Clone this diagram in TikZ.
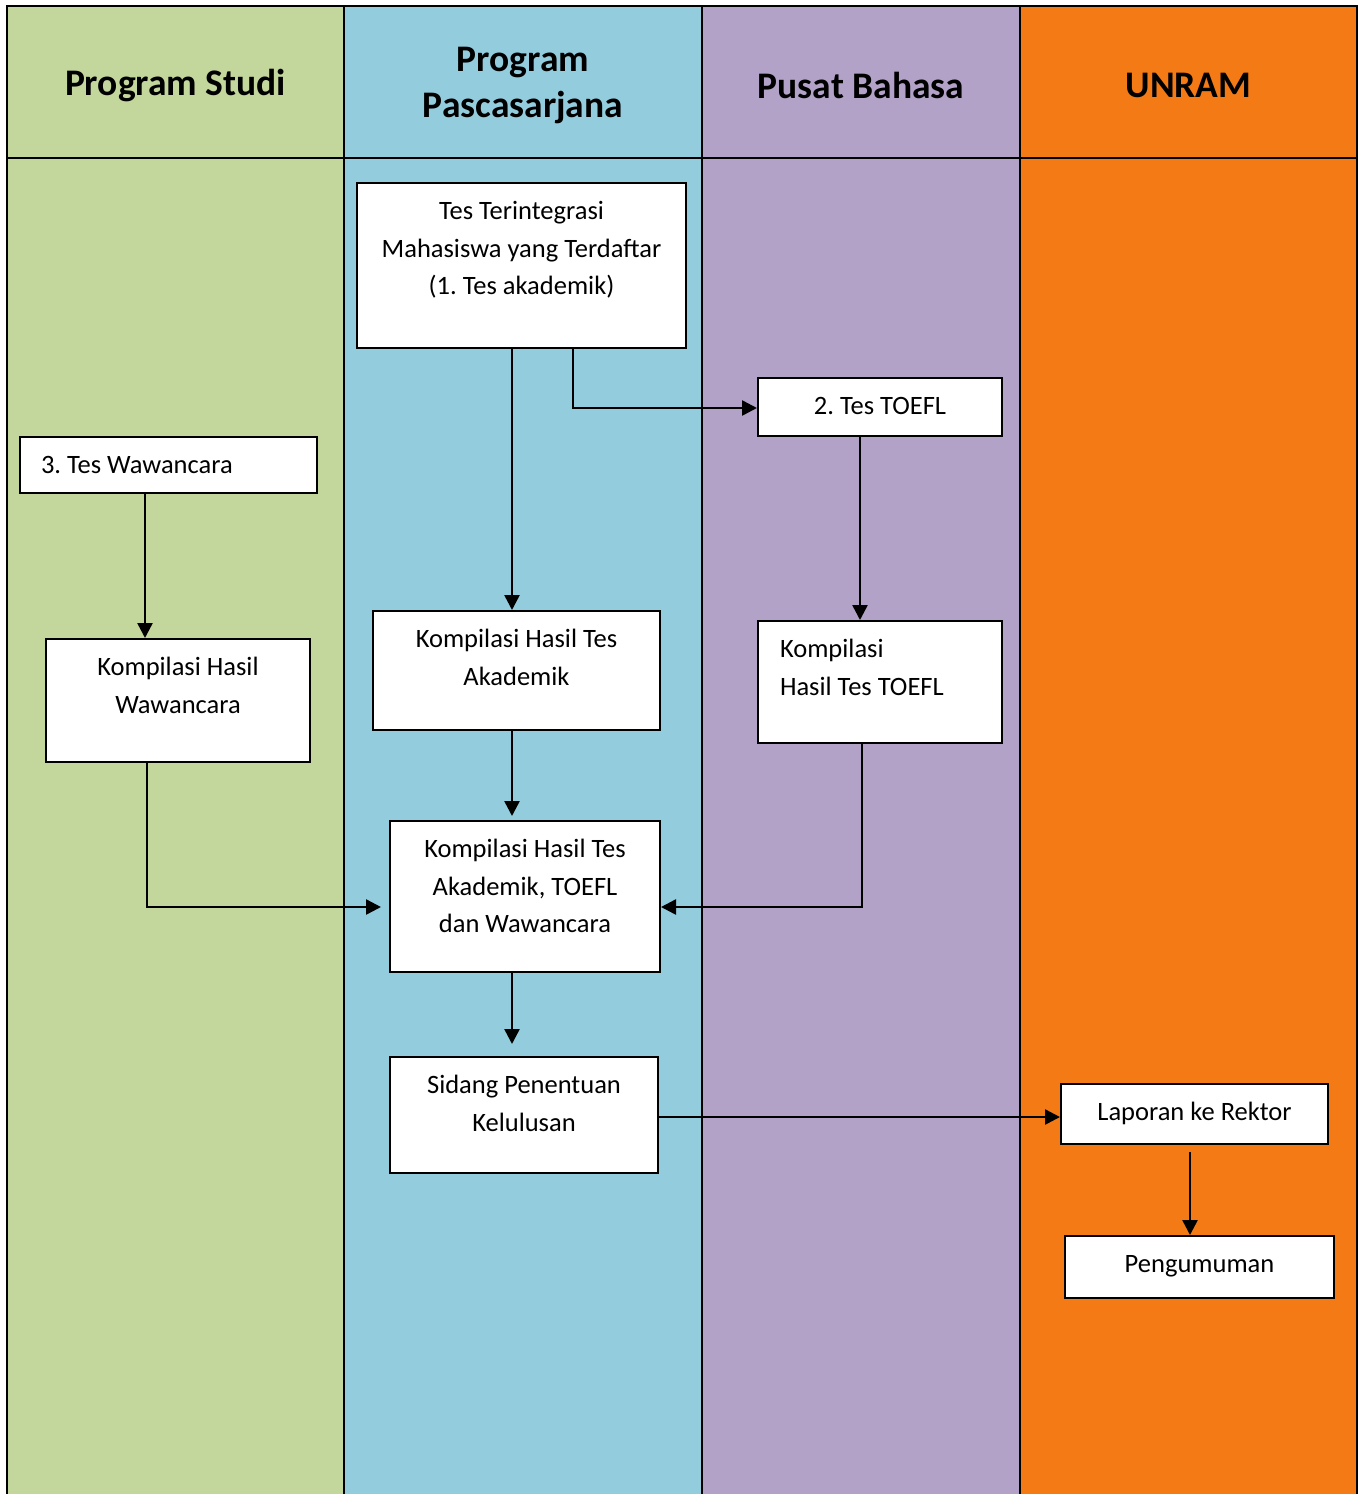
\documentclass[tikz,border=0pt]{standalone}
\usepackage{fontspec}
\setmainfont{Carlito}
\usetikzlibrary{arrows.meta}
\definecolor{laneA}{HTML}{C3D69B}
\definecolor{laneB}{HTML}{93CDDD}
\definecolor{laneC}{HTML}{B2A2C7}
\definecolor{laneD}{HTML}{F47A16}
\frenchspacing
\newcommand{\bxtxt}[4]{\parbox[c][#2pt][t]{#1pt}{\fontsize{26.5}{37.5}\selectfont\frenchspacing\vspace*{10.25pt}#3\strut #4\par}}
\tikzset{
  flowbox/.style={draw=black, line width=2pt, fill=white, inner sep=0pt, anchor=north west},
  lanehead/.style={inner sep=0pt, font=\fontsize{37.5}{46}\selectfont\bfseries, align=center},
  arr/.style={draw=black, line width=2.5pt, -{Triangle[length=15pt,width=15pt]}},
}
\begin{document}
\begin{tikzpicture}[x=1pt,y=-1pt]
\useasboundingbox (0,0) rectangle (1365,1494);
% lanes
\fill[laneA] (7,6) rectangle (344,1494);
\fill[laneB] (344,6) rectangle (702,1494);
\fill[laneC] (702,6) rectangle (1020,1494);
\fill[laneD] (1020,6) rectangle (1357,1494);
\draw[line width=2pt] (7,1494) -- (7,6) -- (1357,6) -- (1357,1494);
\draw[line width=2pt] (344,6) -- (344,1494);
\draw[line width=2pt] (702,6) -- (702,1494);
\draw[line width=2pt] (1020,6) -- (1020,1494);
\draw[line width=1.5pt] (7,158) -- (1357,158);
% headers
\node[lanehead] (h1) at (175.5,85.5) {Program Studi};
\node[lanehead] (h2) at (523,86) {Program\\Pascasarjana};
\node[lanehead] (h3) at (861,85) {Pusat Bahasa};
\node[lanehead] (h4) at (1188.5,85) {UNRAM};
% boxes
\node[flowbox] (t1) at (356,182) {\bxtxt{329}{165}{\centering}{Tes Terintegrasi\\Mahasiswa yang Terdaftar\\(1. Tes akademik)}};
\node[flowbox] (toefl) at (757,377) {\bxtxt{244}{58}{\centering}{2. Tes TOEFL}};
\node[flowbox] (waw) at (19,436) {\bxtxt{297}{56}{\raggedright\hspace*{21pt}}{3. Tes Wawancara}};
\node[flowbox] (kw) at (45,638) {\bxtxt{264}{123}{\centering}{Kompilasi Hasil\\Wawancara}};
\node[flowbox] (ka) at (372,610) {\bxtxt{287}{119}{\centering}{Kompilasi Hasil Tes\\Akademik}};
\node[flowbox] (kt) at (757,620) {\bxtxt{244}{122}{\raggedright\leftskip=22pt}{Kompilasi\\Hasil Tes TOEFL}};
\node[flowbox] (kc) at (389,820) {\bxtxt{270}{151}{\centering}{Kompilasi Hasil Tes\\Akademik, TOEFL\\dan Wawancara}};
\node[flowbox] (sid) at (389,1056) {\bxtxt{268}{116}{\centering}{Sidang Penentuan\\Kelulusan}};
\node[flowbox] (lap) at (1060,1083) {\bxtxt{267}{60}{\centering}{Laporan ke Rektor}};
\node[flowbox] (peng) at (1064,1235) {\bxtxt{269}{62}{\centering}{Pengumuman}};
% helper coordinates
\coordinate (x512) at (512,0);
\coordinate (x573) at (573,0);
\coordinate (x860) at (860,0);
\coordinate (x862) at (862,0);
\coordinate (x145) at (145,0);
\coordinate (x147) at (147,0);
\coordinate (x1190) at (1190,0);
\coordinate (y907) at (0,907);
\coordinate (y408) at (0,408);
\coordinate (y1117) at (0,1117);
% connectors
\draw[arr] (t1.south -| x512) -- (ka.north -| x512);
\draw[arr] (t1.south -| x573) |- (toefl.west |- y408);
\draw[arr] (toefl.south -| x860) -- (kt.north -| x860);
\draw[arr] (waw.south -| x145) -- (kw.north -| x145);
\draw[arr, shorten >=8pt] (kw.south -| x147) |- (kc.west |- y907);
\draw[arr, shorten >=4pt] (ka.south -| x512) -- (kc.north -| x512);
\draw[arr] (kt.south -| x862) |- (kc.east |- y907);
\draw[arr, shorten >=12pt] (kc.south -| x512) -- (sid.north -| x512);
\draw[arr] (sid.east |- y1117) -- (lap.west |- y1117);
\draw[arr, shorten <=7pt] (lap.south -| x1190) -- (peng.north -| x1190);
\end{tikzpicture}
\end{document}
